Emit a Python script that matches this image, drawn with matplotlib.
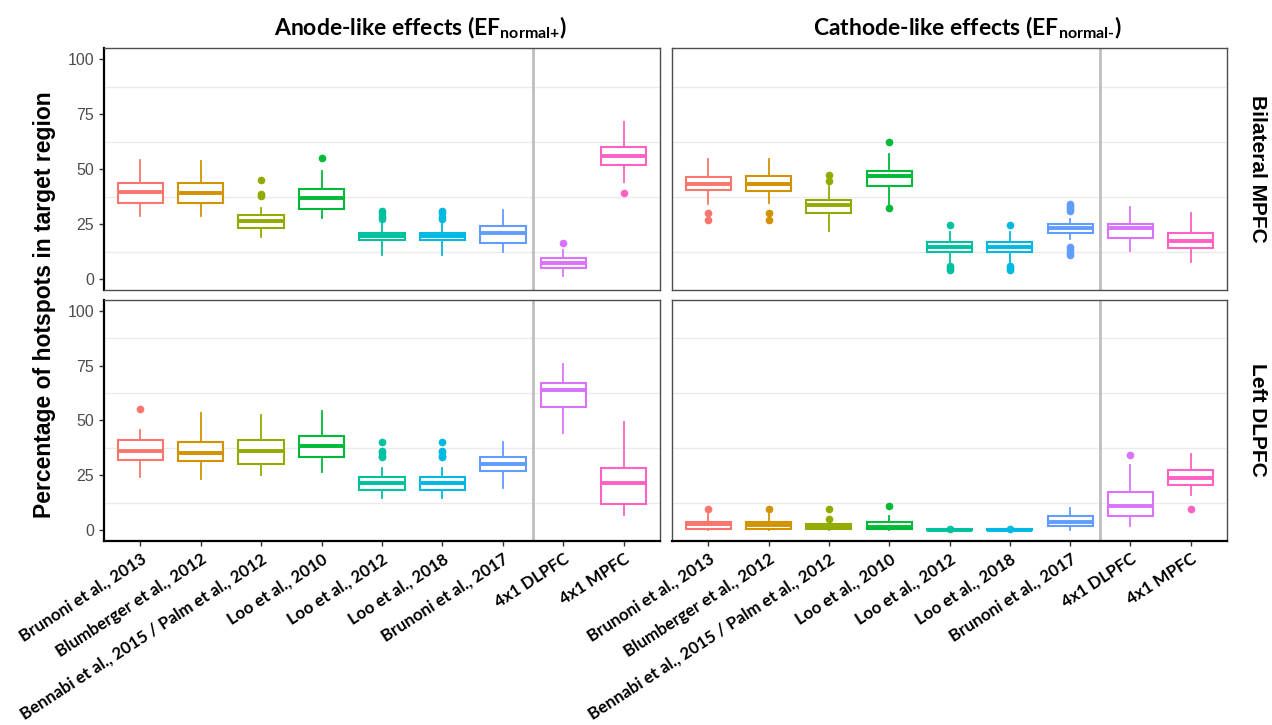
import matplotlib
matplotlib.use("Agg")
import matplotlib.pyplot as plt

categories = ["Brunoni et al., 2013", "Blumberger et al., 2012",
              "Bennabi et al., 2015 / Palm et al., 2012", "Loo et al., 2010",
              "Loo et al., 2012", "Loo et al., 2018", "Brunoni et al., 2017",
              "4x1 DLPFC", "4x1 MPFC"]
colors = ["#F8766D", "#D39200", "#93AA00", "#00BA38", "#00C19F",
          "#00B9E3", "#619CFF", "#DB72FB", "#FF61C3"]

# five-number summaries per category: [low whisker, q1, median, q3, high whisker]
anode_mpfc = [[28.6, 34.4, 39.4, 43.6, 54.2], [28.6, 34.4, 39.2, 43.6, 53.7],
              [19.2, 23.0, 26.5, 29.0, 32.4], [27.7, 32.0, 37.0, 40.9, 49.3],
              [10.7, 17.6, 19.6, 21.1, 25.5], [10.7, 17.6, 19.6, 21.1, 25.5],
              [12.1, 16.3, 21.1, 24.3, 31.5], [1.4, 5.1, 7.2, 9.4, 13.4],
              [44.3, 51.7, 55.8, 60.0, 71.5]]
anode_mpfc_out = [[], [], [44.8, 38.5, 37.8], [55.0], [30.8, 30.0, 28.0, 27.2],
                  [30.8, 30.0, 28.0, 27.2], [], [16.3], [39.0]]

cathode_mpfc = [[34.3, 40.3, 43.4, 46.5, 54.6], [34.7, 40.0, 43.4, 46.9, 54.6],
                [22.0, 30.0, 33.8, 35.7, 42.5], [34.3, 42.5, 46.6, 49.2, 56.9],
                [7.1, 12.2, 14.5, 16.6, 21.4], [7.1, 12.2, 14.5, 16.6, 21.4],
                [18.0, 21.0, 23.1, 25.0, 27.1], [12.8, 18.7, 23.2, 24.9, 32.7],
                [7.8, 14.3, 17.1, 20.8, 30.0]]
cathode_mpfc_out = [[30.2, 26.6], [30.0, 26.8], [47.5, 44.6], [62.1, 32.3],
                    [24.4, 6.0, 5.0, 4.0], [24.4, 6.0, 5.0, 4.0],
                    [34.0, 33.0, 32.0, 31.0, 14.6, 13.0, 12.0, 10.8], [], []]

anode_dlpfc = [[24.1, 32.0, 36.3, 41.3, 45.6], [23.2, 31.4, 35.2, 40.3, 53.2],
               [25.0, 30.3, 36.3, 41.3, 52.5], [26.4, 33.3, 38.3, 42.7, 54.4],
               [14.6, 18.4, 21.4, 24.4, 28.2], [14.6, 18.4, 21.4, 24.4, 28.2],
               [19.3, 26.8, 30.3, 33.2, 40.4], [44.2, 56.1, 63.7, 67.3, 75.6],
               [6.7, 11.8, 21.4, 28.1, 49.2]]
anode_dlpfc_out = [[55.4], [], [], [], [40.0, 36.3, 35.5, 34.0, 33.5],
                   [40.0, 36.3, 35.5, 34.0, 33.5], [], [], []]

cathode_dlpfc = [[0.0, 0.3, 2.6, 3.8, 7.1], [0.0, 0.3, 2.5, 3.8, 7.1],
                 [0.0, 0.3, 1.5, 2.6, 3.5], [0.0, 0.3, 1.4, 3.8, 6.5],
                 [0.0, 0.0, 0.0, 0.3, 0.3], [0.0, 0.0, 0.0, 0.3, 0.3],
                 [0.1, 1.8, 3.9, 6.5, 10.0], [1.8, 6.6, 11.0, 17.5, 29.6],
                 [16.2, 20.7, 23.7, 27.6, 34.7]]
cathode_dlpfc_out = [[9.6], [9.6], [9.6, 5.0], [10.9], [0.7], [0.7], [], [34.2], [9.8]]

col_titles = [r"Anode-like effects (EF$_{\text{normal+}}$)",
              r"Cathode-like effects (EF$_{\text{normal-}}$)"]
row_titles = ["Bilateral MPFC", "Left DLPFC"]
yticks = [0, 25, 50, 75, 100]

plt.rcParams['mathtext.fontset'] = 'custom'
plt.rcParams['mathtext.rm'] = 'Lato:bold'
plt.rcParams['mathtext.bf'] = 'Lato:bold'

fig = plt.figure(figsize=(12.72, 7.25), dpi=100)
W, H = 1272, 725
boxes = [[(104, 48, 660, 290), (672, 48, 1227, 290)],
         [(104, 300, 660, 541), (672, 300, 1227, 541)]]
panels = [[(anode_mpfc, anode_mpfc_out), (cathode_mpfc, cathode_mpfc_out)],
          [(anode_dlpfc, anode_dlpfc_out), (cathode_dlpfc, cathode_dlpfc_out)]]

for r in range(2):
    for c in range(2):
        x0, y0, x1, y1 = boxes[r][c]
        ax = fig.add_axes([x0 / W, 1 - y1 / H, (x1 - x0) / W, (y1 - y0) / H])
        summ, outs = panels[r][c]
        stats = []
        for s, o in zip(summ, outs):
            stats.append(dict(whislo=s[0], q1=s[1], med=s[2], q3=s[3],
                              whishi=s[4], fliers=o))
        pos = list(range(1, len(categories) + 1))
        for gy in [12.5, 37.5, 62.5, 87.5]:
            ax.axhline(gy, color="#EBEBEB", lw=1, zorder=0)
        ax.axvline(7.5, color="#BEBEBE", lw=2, zorder=1)
        bp = ax.bxp(stats, positions=pos, widths=0.75, showcaps=False,
                    patch_artist=True)
        for i, col in enumerate(colors):
            bp['boxes'][i].set(facecolor="white", edgecolor=col, lw=1.5, zorder=2)
            bp['medians'][i].set(color=col, lw=2.8, zorder=3)
            bp['whiskers'][2 * i].set(color=col, lw=1.3)
            bp['whiskers'][2 * i + 1].set(color=col, lw=1.3)
            bp['fliers'][i].set(marker="o", markerfacecolor=col,
                                markeredgecolor=col, markersize=4.5)
        ax.set_xlim(0.4, 9.6)
        ax.set_ylim(-5, 105)
        ax.set_yticks(yticks)
        for sp in ax.spines.values():
            sp.set_color("#4D4D4D")
            sp.set_linewidth(1)
        ax.tick_params(length=3.5, color="#333333", width=1)
        if c == 0:
            ax.set_yticklabels([str(t) for t in yticks], fontsize=11.5,
                               color="#4D4D4D", family="Liberation Sans")
            ax.spines['left'].set_color("black")
            ax.spines['left'].set_linewidth(1.6)
        else:
            ax.tick_params(axis='y', left=False, labelleft=False)
        ax.set_xticks(pos)
        if r == 1:
            ax.spines['bottom'].set_color("black")
            ax.spines['bottom'].set_linewidth(1.6)
            ax.set_xticklabels(categories, rotation=33, ha="right",
                               rotation_mode="anchor", fontsize=12.2,
                               family="Lato", fontweight="bold")
        else:
            ax.tick_params(axis='x', bottom=False, labelbottom=False)

fig.text(421 / W, 1 - 28 / H, col_titles[0], ha="center", va="center",
         fontsize=16.5, family="Lato", fontweight="bold")
fig.text(967 / W, 1 - 28 / H, col_titles[1], ha="center", va="center",
         fontsize=16.5, family="Lato", fontweight="bold")
fig.text(1257 / W, 1 - 169 / H, row_titles[0], ha="center", va="center",
         rotation=-90, fontsize=15, family="Liberation Sans", fontweight="bold")
fig.text(1257 / W, 1 - 420 / H, row_titles[1], ha="center", va="center",
         rotation=-90, fontsize=15, family="Liberation Sans", fontweight="bold")
fig.text(45 / W, 1 - 305 / H, "Percentage of hotspots in target region",
         ha="center", va="center", rotation=90, fontsize=16.5,
         family="Liberation Sans", fontweight="bold")

fig.savefig("out.png", dpi=100)
